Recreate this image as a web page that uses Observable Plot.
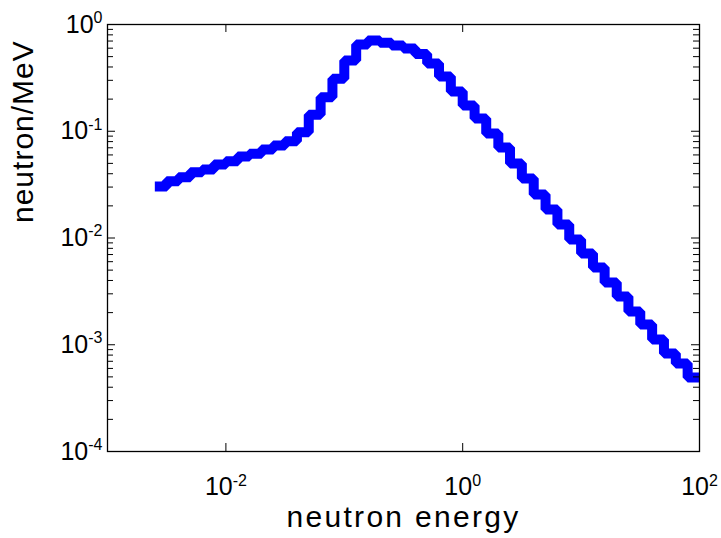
<!DOCTYPE html>
<html>
<head>
<meta charset="utf-8">
<script src="https://cdn.jsdelivr.net/npm/d3@7"></script>
<script src="https://cdn.jsdelivr.net/npm/@observablehq/plot@0.6"></script>
<style>
  html, body { margin: 0; padding: 0; background: #fff; }
  svg { display: block; }
</style>
</head>
<body>
<div id="chart"></div>
<script>
// Bin edges of the energy histogram (MeV), 10 bins per decade
const binEdges = [
  0.00251, 0.00316, 0.00398, 0.00501, 0.00631, 0.00794,
  0.01, 0.0126, 0.0158, 0.02, 0.0251, 0.0316, 0.0398, 0.0501, 0.0631, 0.0794,
  0.1, 0.126, 0.158, 0.2, 0.251, 0.316, 0.398, 0.501, 0.631, 0.794,
  1, 1.26, 1.58, 2, 2.51, 3.16, 3.98, 5.01, 6.31, 7.94,
  10, 12.6, 15.8, 20, 25.1, 31.6, 39.8, 50.1, 63.1, 79.4,
  100
];
// neutron/MeV in each bin
const neutronPerMeV = [
  0.0304, 0.034, 0.0371, 0.0413, 0.0438, 0.0488,
  0.0524, 0.058, 0.0615, 0.0675, 0.0736, 0.0807, 0.098, 0.143, 0.208, 0.31,
  0.46, 0.65, 0.708, 0.674, 0.636, 0.596, 0.53, 0.431, 0.326, 0.236,
  0.174, 0.1316, 0.0952, 0.0704, 0.0499, 0.0361, 0.0255, 0.0185, 0.01337, 0.00968,
  0.00716, 0.0053, 0.00383, 0.00283, 0.00205, 0.00155, 0.00112, 0.000828, 0.000667, 0.000493
];
const xTicks = [1e-2, 1, 1e2];
const yTicks = [1e-4, 1e-3, 1e-2, 1e-1, 1];
const xLabel = "neutron energy";
const yLabel = "neutron/MeV";

// step table: each bin value starts at its left edge, last value repeated at the final edge
const table = binEdges.map((e, i) => ({
  energy: e,
  flux: neutronPerMeV[Math.min(i, neutronPerMeV.length - 1)]
}));

const W = 721, H = 538;
const mL = 107, mR = 22, mT = 24, mB = 87;
const pw = W - mL - mR, ph = H - mT - mB;
const majorLen = 8, minorLen = 6;
const isDecade = v => Math.abs(Math.log10(v) - Math.round(Math.log10(v))) < 1e-9;
const yMinor = d3.scaleLog().domain([1e-4, 1]).ticks().filter(v => !isDecade(v));
const fmt = d => "10^" + Math.round(Math.log10(d));
const font = "'Liberation Sans', Arial, Helvetica, sans-serif";

const chart = Plot.plot({
  width: W, height: H,
  marginLeft: mL, marginRight: mR, marginTop: mT, marginBottom: mB,
  style: { fontFamily: font, background: "#fff", color: "#000", overflow: "visible" },
  x: { type: "log", domain: [1e-3, 1e2] },
  y: { type: "log", domain: [1e-4, 1] },
  marks: [
    Plot.line(table, {
      x: "energy", y: "flux", curve: "step-after",
      stroke: "#0000ff", strokeWidth: 10,
      strokeLinejoin: "miter", strokeLinecap: "butt", clip: true
    }),
    Plot.tickY(yTicks, { y: d => d, insetRight: pw - majorLen, stroke: "#000" }),
    Plot.tickY(yTicks, { y: d => d, insetLeft: pw - majorLen, stroke: "#000" }),
    Plot.tickY(yMinor, { y: d => d, insetRight: pw - minorLen, stroke: "#000" }),
    Plot.tickY(yMinor, { y: d => d, insetLeft: pw - minorLen, stroke: "#000" }),
    Plot.tickX(xTicks, { x: d => d, insetTop: ph - majorLen, stroke: "#000" }),
    Plot.tickX(xTicks, { x: d => d, insetBottom: ph - majorLen, stroke: "#000" }),
    Plot.frame({ stroke: "#000", strokeWidth: 1.3 }),
    Plot.axisY(yTicks, { anchor: "left", tickSize: 0, tickPadding: 5, tickFormat: fmt, fontSize: 25, label: null }),
    Plot.axisX(xTicks, { anchor: "bottom", tickSize: 0, tickPadding: 26, tickFormat: fmt, fontSize: 25, label: null }),
    Plot.text([xLabel], { frameAnchor: "bottom", dy: 75, fontSize: 30, fill: "#000" }),
    Plot.text([yLabel], { frameAnchor: "left", dx: -84, dy: -15, rotate: -90, fontSize: 30, fill: "#000" })
  ]
});

// turn "10^k" tick labels into 10 with a raised exponent
const ns = "http://www.w3.org/2000/svg";
chart.querySelectorAll('g[aria-label="y-axis tick label"] text, g[aria-label="x-axis tick label"] text').forEach(t => {
  const parts = t.textContent.split("^");
  if (parts.length !== 2) return;
  t.textContent = "";
  const b = document.createElementNS(ns, "tspan");
  b.textContent = parts[0];
  t.appendChild(b);
  const e = document.createElementNS(ns, "tspan");
  e.textContent = parts[1];
  e.setAttribute("dy", "-0.6em");
  e.setAttribute("font-size", "0.64em");
  t.appendChild(e);
});
chart.querySelectorAll("text").forEach(t => {
  if (t.textContent === xLabel) t.setAttribute("letter-spacing", "2.3");
  if (t.textContent === yLabel) t.setAttribute("letter-spacing", "1");
});

document.getElementById("chart").appendChild(chart);
</script>
</body>
</html>
